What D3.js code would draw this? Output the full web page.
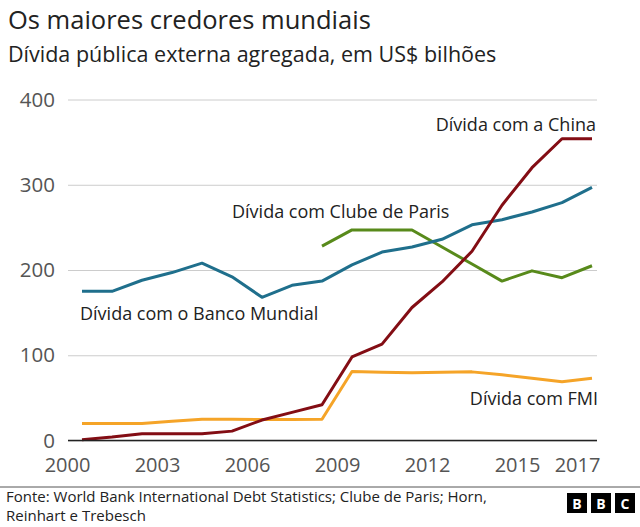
<!DOCTYPE html>
<html><head><meta charset="utf-8">
<script src="https://cdn.jsdelivr.net/npm/d3@7"></script>
<style>body{margin:0;background:#fff}svg{display:block}</style>
</head><body>
<script>
const years = [2000,2001,2002,2003,2004,2005,2006,2007,2008,2009,2010,2011,2012,2013,2014,2015,2016,2017];
const china = [1,4,8,8,8,11,24,33,42,98,113,156,186,222,276,320,354,354];
const worldBank = [175,175,188,197,208,192,168,182,187,206,221,227,236,253,259,268,279,297];
const parisYears = [2008,2009,2010,2011,2012,2013,2014,2015,2016,2017];
const paris = [228,247,247,247,227,207,187,199,191,205];
const imf = [20,20,20,22.5,25,25,24.5,24.5,25,81,80,79.5,80,80.5,77,73,69,73];
const yTicks = [0,100,200,300,400];
const xTicks = [2000,2003,2006,2009,2012,2015,2017];
const seriesLabels = ["Dívida com a China","Dívida com Clube de Paris","Dívida com o Banco Mundial","Dívida com FMI"];
const title = "Os maiores credores mundiais";
const subtitle = "Dívida pública externa agregada, em US$ bilhões";
const source = ["Fonte: World Bank International Debt Statistics; Clube de Paris; Horn,","Reinhart e Trebesch"];

const W = 640, H = 527;
const FONT = "'Open Sans', sans-serif";
const svg = d3.select("body").append("svg").attr("width", W).attr("height", H).style("font-family", FONT);

const x = d3.scaleLinear().domain([2000, 2017.5]).range([67, 592]);
const y = d3.scaleLinear().domain([0, 400]).range([440.5, 99.5]);

svg.append("text").attr("x", 8).attr("y", 29).attr("font-size", 25.5).attr("fill", "#222").text(title);
svg.append("text").attr("x", 8).attr("y", 62).attr("font-size", 21.5).attr("fill", "#222").text(subtitle);

// grid
const yAxis = d3.axisLeft(y).tickValues(yTicks).tickSize(-(597 - 68)).tickPadding(13);
const gy = svg.append("g").attr("transform", "translate(68,0)").call(yAxis);
gy.select(".domain").remove();
gy.selectAll(".tick line").attr("stroke", "#cccccc").attr("stroke-width", 1);
gy.selectAll(".tick text").attr("font-size", 20.5).attr("fill", "#555").attr("font-family", FONT);

const xAxis = d3.axisBottom(x).tickValues(xTicks).tickFormat(d3.format("d")).tickSize(0).tickPadding(17);
const gx = svg.append("g").attr("transform", `translate(0,${y(0)})`).call(xAxis);
gx.select(".domain").remove();
gx.selectAll(".tick text").attr("font-size", 20).attr("fill", "#555").attr("font-family", FONT);

const mid = d => d + 0.5;
const line = d3.line().x(d => x(mid(d[0]))).y(d => y(d[1]));
const draw = (xs, vs, color) => svg.append("path")
  .datum(xs.map((yr, i) => [yr, vs[i]]))
  .attr("d", line).attr("fill", "none").attr("stroke", color)
  .attr("stroke-width", 3).attr("stroke-linejoin", "round").attr("stroke-linecap", "butt");

draw(years, imf, "#f5a428");
draw(parisYears, paris, "#588a1b");
draw(years, worldBank, "#1f6f8c");
draw(years, china, "#830d14");

// baseline
svg.append("line").attr("x1", 68).attr("x2", 597).attr("y1", y(0)).attr("y2", y(0))
  .attr("stroke", "#222").attr("stroke-width", 1.5);

const lab = (t, xx, yy, anchor) => svg.append("text").attr("x", xx).attr("y", yy)
  .attr("text-anchor", anchor).attr("font-size", 18).attr("fill", "#222").text(t);
lab(seriesLabels[0], 596, 131, "end");
lab(seriesLabels[1], 232, 218, "start");
lab(seriesLabels[2], 80, 320, "start");
lab(seriesLabels[3], 598, 405, "end");

// footer
svg.append("line").attr("x1", 0).attr("x2", W).attr("y1", 487).attr("y2", 487).attr("stroke", "#555").attr("stroke-width", 1);
svg.append("text").attr("x", 6).attr("y", 502).attr("font-size", 15).attr("fill", "#222").text(source[0]);
svg.append("text").attr("x", 6).attr("y", 521).attr("font-size", 15).attr("fill", "#222").text(source[1]);

const logo = svg.append("g").attr("transform", "translate(567,493)");
["B","B","C"].forEach((c, i) => {
  logo.append("rect").attr("x", i * 24).attr("y", 0).attr("width", 20).attr("height", 20).attr("fill", "#000");
  logo.append("text").attr("x", i * 24 + 10).attr("y", 15.5).attr("text-anchor", "middle")
    .attr("font-size", 14).attr("font-weight", "bold").attr("fill", "#fff").text(c);
});
</script>
</body></html>
